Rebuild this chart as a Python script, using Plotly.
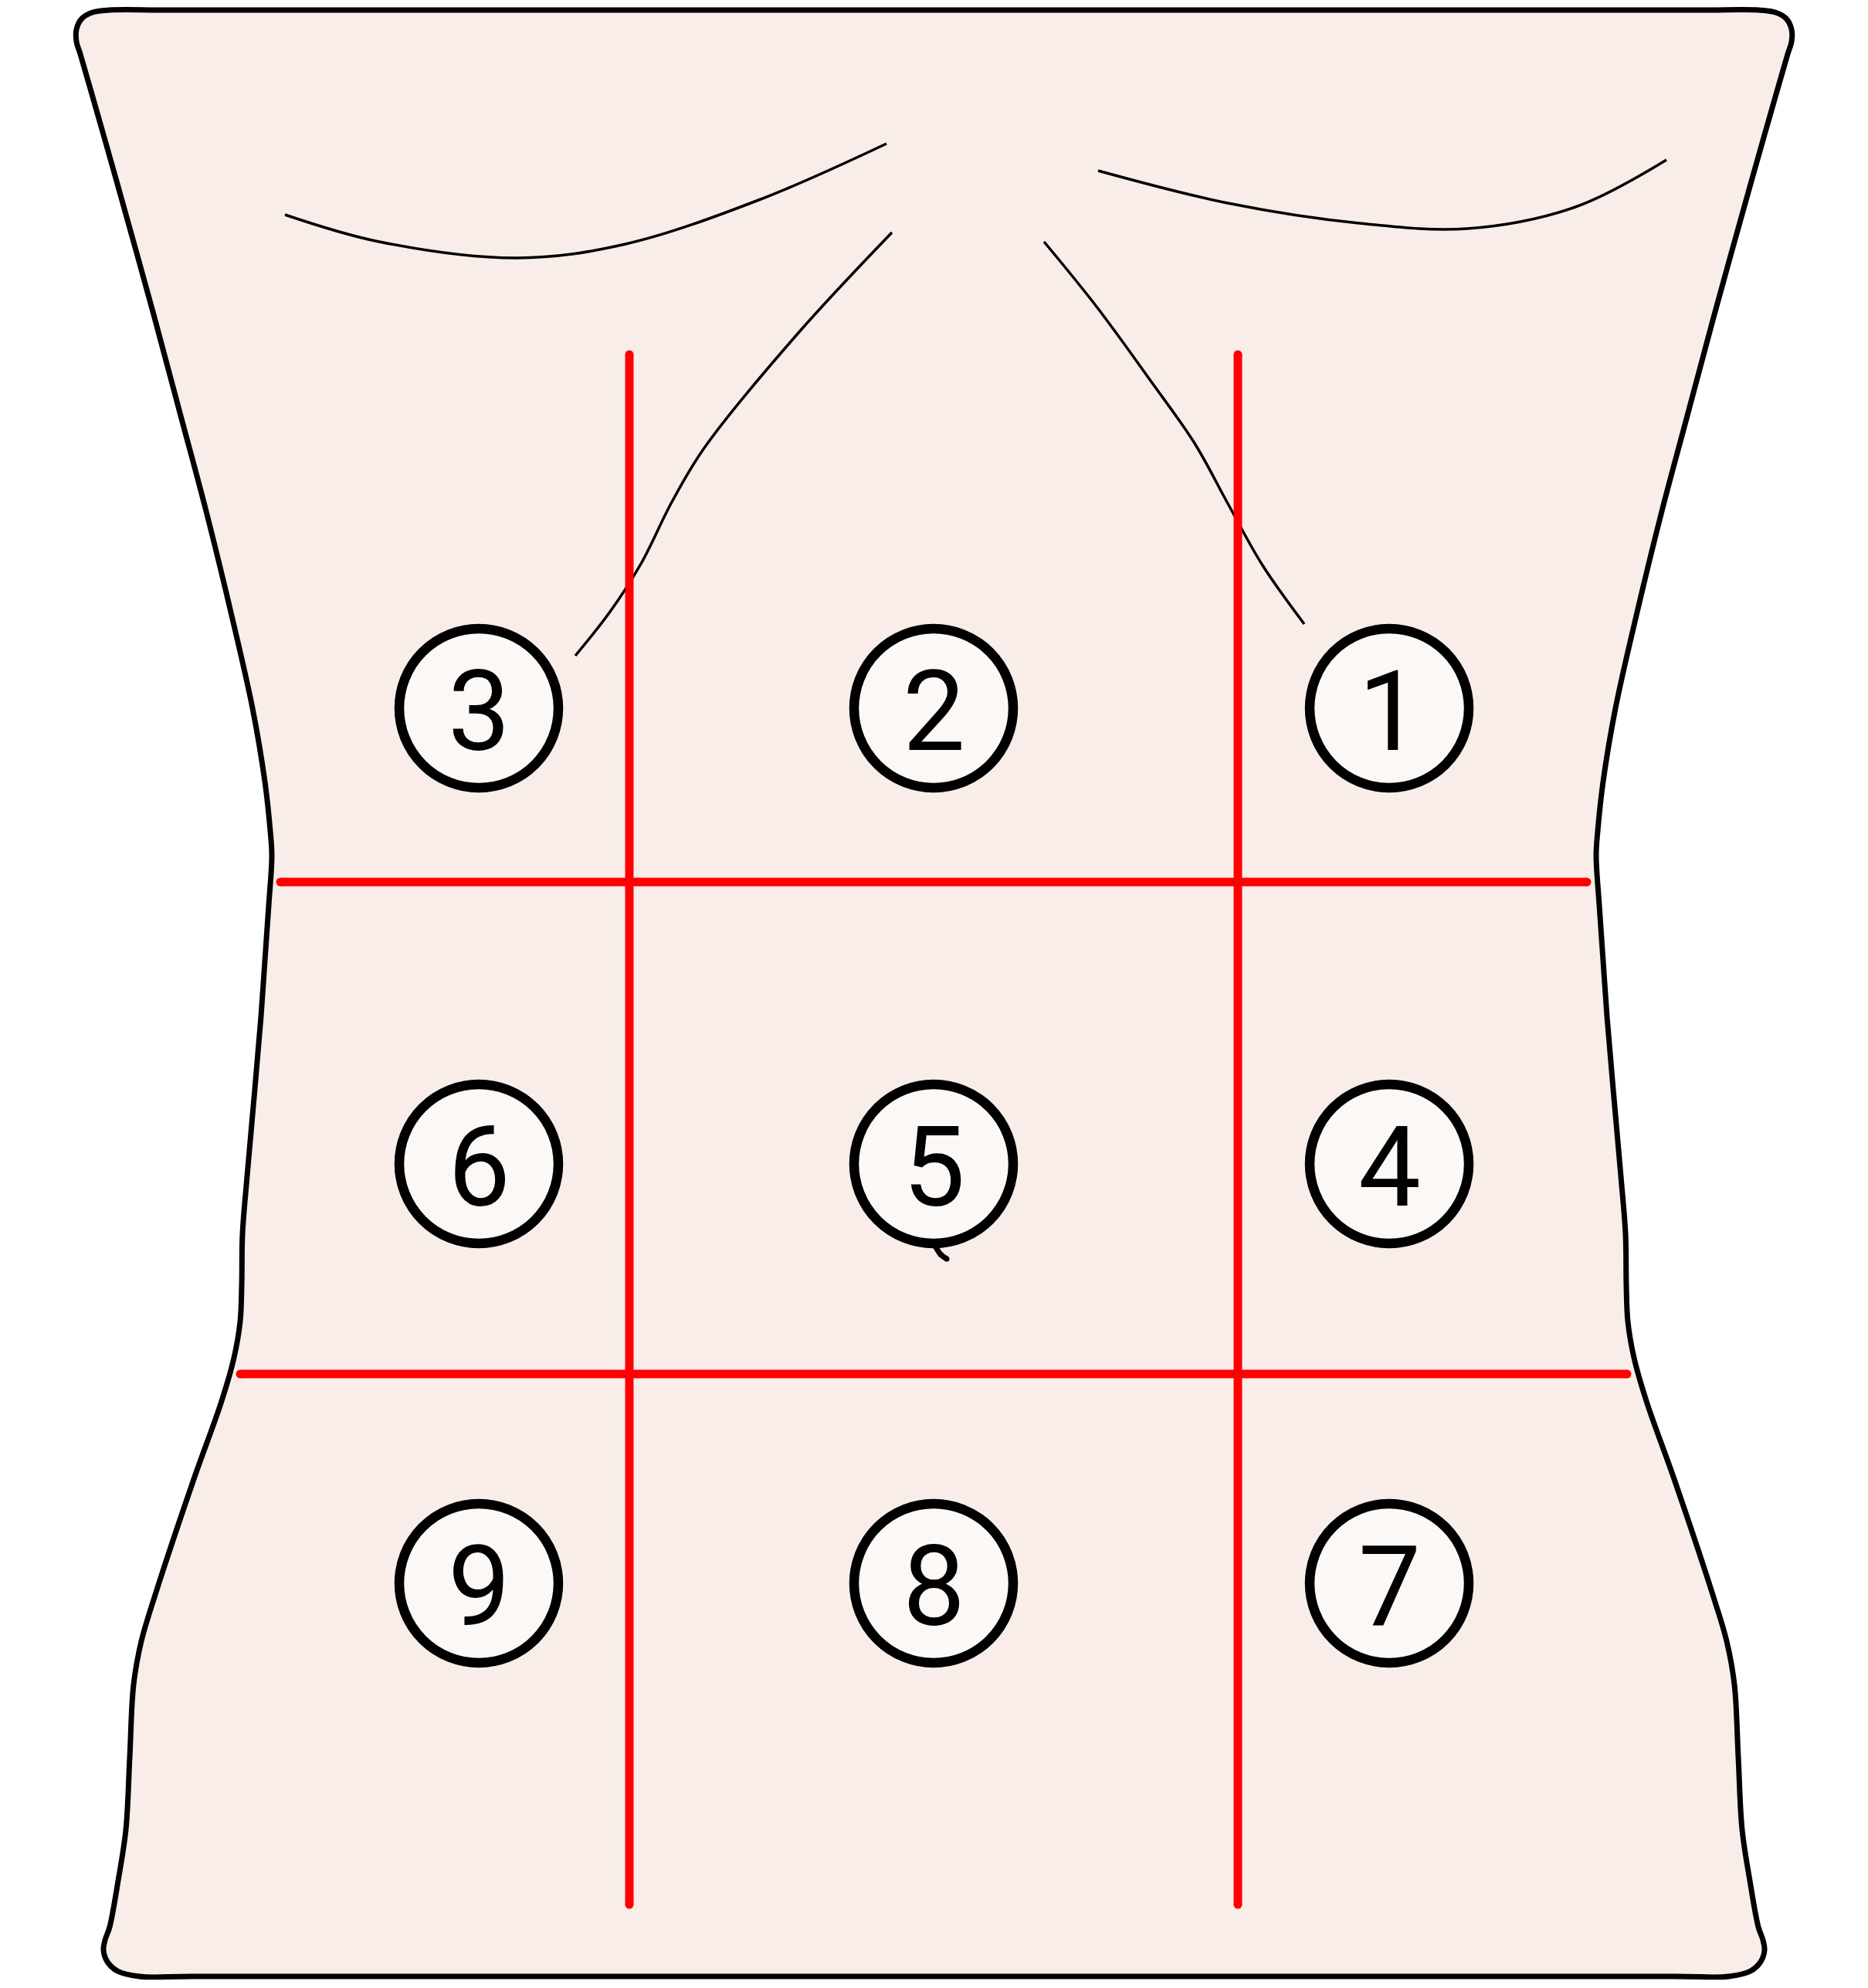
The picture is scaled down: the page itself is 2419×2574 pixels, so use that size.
import plotly.graph_objects as go

W, H = 2419, 2574

# body outline, traced from the middle of the top edge round the left side and back up the right side
body_x = [1209, 700, 220, 142, 120, 106, 99, 99, 104, 127, 150, 200, 235, 267, 300, 327, 343, 350, 352,
          348, 343, 338, 330, 320, 314, 313, 311, 303, 287, 250, 200, 183, 173, 168, 163, 153, 142, 136,
          134, 139, 152, 180, 250, 700, 1209,
          1719, 2169, 2239, 2267, 2280, 2285, 2283, 2277, 2266, 2256, 2251, 2246, 2236, 2219, 2169, 2132,
          2116, 2108, 2106, 2105, 2099, 2089, 2081, 2076, 2071, 2067, 2069, 2076, 2092, 2119, 2152, 2184,
          2219, 2269, 2292, 2315, 2320, 2320, 2313, 2299, 2277, 2199, 1719, 1209]
body_y = [13, 13, 13, 13, 16, 24, 38, 54, 70, 150, 231, 411, 542, 662, 797, 917, 1012, 1076, 1108,
          1172, 1244, 1316, 1410, 1523, 1598, 1664, 1711, 1758, 1814, 1918, 2068, 2125, 2181, 2275, 2369,
          2435, 2495, 2512, 2525, 2540, 2552, 2559, 2559, 2559, 2559,
          2559, 2559, 2559, 2552, 2540, 2525, 2512, 2495, 2435, 2369, 2275, 2181, 2125, 2068, 1918, 1814,
          1758, 1711, 1664, 1598, 1523, 1410, 1316, 1244, 1172, 1108, 1076, 1012, 917, 797, 662, 542,
          411, 231, 150, 70, 54, 38, 24, 16, 13, 13, 13, 13]

# chest contours
clav_l_x = [369, 491, 670, 810, 985, 1148]
clav_l_y = [278, 313, 334, 316, 258, 186]
clav_r_x = [1422, 1590, 1760, 1900, 2040, 2158]
clav_r_y = [221, 263, 289, 296, 268, 207]
rib_l_x = [1155, 1033, 912, 870, 830, 790, 745]
rib_l_y = [301, 432, 580, 650, 730, 792, 849]
rib_r_x = [1352, 1420, 1490, 1547, 1590, 1635, 1689]
rib_r_y = [313, 397, 493, 574, 652, 732, 808]
navel_x = [1212, 1218, 1226]
navel_y = [1615, 1624, 1630]

# region dividers
vert_x = [815, 1603]
vert_y = [459, 2466]
horiz_y = [1142, 1779]
horiz_x0 = [363, 311]
horiz_x1 = [2055, 2107]

# numbered regions
region_x = [620, 1209, 1799, 620, 1209, 1799, 620, 1209, 1799]
region_y = [917, 917, 917, 1507, 1507, 1507, 2050, 2050, 2050]
region_labels = ["3", "2", "1", "6", "5", "4", "9", "8", "7"]

RED = "#ff0000"

fig = go.Figure()

fig.add_trace(go.Scatter(x=body_x, y=body_y, mode="lines", fill="toself", fillcolor="#f8ede9",
                         line=dict(color="black", width=7, shape="spline", smoothing=1, simplify=False)))

for xs, ys in [(clav_l_x, clav_l_y), (clav_r_x, clav_r_y), (rib_l_x, rib_l_y), (rib_r_x, rib_r_y)]:
    fig.add_trace(go.Scatter(x=xs, y=ys, mode="lines",
                             line=dict(color="black", width=3.5, shape="spline", smoothing=1, simplify=False)))

fig.add_trace(go.Scatter(x=navel_x, y=navel_y, mode="lines+markers", marker=dict(size=7, color="black"),
                         line=dict(color="black", width=7, shape="spline")))

# red lines get round ends from small markers
for vx in vert_x:
    fig.add_trace(go.Scatter(x=[vx, vx], y=vert_y, mode="lines+markers",
                             marker=dict(size=11, color=RED), line=dict(color=RED, width=11)))
for hy, x0, x1 in zip(horiz_y, horiz_x0, horiz_x1):
    fig.add_trace(go.Scatter(x=[x0, x1], y=[hy, hy], mode="lines+markers",
                             marker=dict(size=11, color=RED), line=dict(color=RED, width=11)))

fig.add_trace(go.Scatter(x=region_x, y=region_y, mode="markers",
                         marker=dict(size=206, color="#fcf8f6", line=dict(color="black", width=12.5))))

for rx, ry, lab in zip(region_x, region_y, region_labels):
    fig.add_annotation(x=rx, y=ry, text=lab, showarrow=False, yshift=-4,
                       font=dict(family="Roboto", size=144, color="black"))

fig.update_layout(
    width=W, height=H,
    margin=dict(l=0, r=0, t=0, b=0),
    plot_bgcolor="white", paper_bgcolor="white",
    showlegend=False,
    xaxis=dict(range=[0, W], visible=False, fixedrange=True),
    yaxis=dict(range=[H, 0], visible=False, fixedrange=True),
)

fig.write_html("out.html", config={"displayModeBar": False},
               post_script="document.body.style.margin='0';")
